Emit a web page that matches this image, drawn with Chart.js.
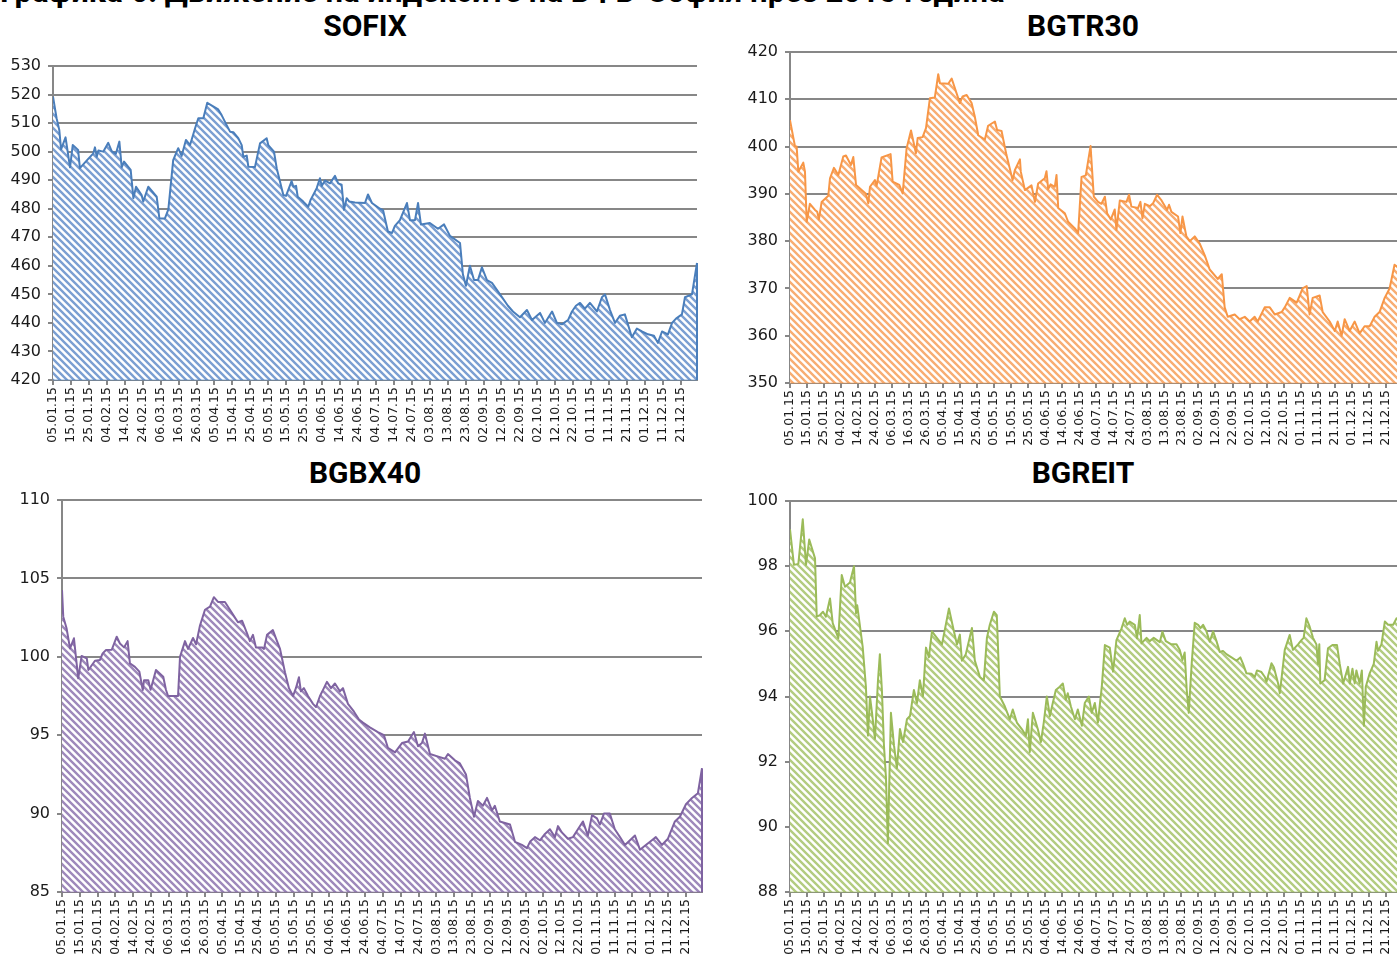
<!DOCTYPE html>
<html><head><meta charset="utf-8">
<script src="https://cdn.jsdelivr.net/npm/chart.js@4"></script>
<style>
html,body{margin:0;padding:0;width:1397px;height:958px;overflow:hidden;background:#fff;}
canvas{position:absolute;}
.ttl{position:absolute;font-family:Roboto,"Liberation Sans",sans-serif;font-weight:bold;color:#000;white-space:nowrap;line-height:1;}
.pt{width:400px;text-align:center;font-size:30px;}
</style></head><body>
<div class="ttl" style="left:0;top:-24px;font-size:31px;">Графика 6: Движение на индексите на БФБ-София през 2015 година</div>
<div class="ttl pt" style="left:165px;top:11px;">SOFIX</div>
<div class="ttl pt" style="left:883px;top:11px;">BGTR30</div>
<div class="ttl pt" style="left:165px;top:458px;">BGBX40</div>
<div class="ttl pt" style="left:883px;top:458px;">BGREIT</div>
<canvas id="c1" width="710" height="420" style="left:0;top:40px"></canvas>
<canvas id="c2" width="700" height="430" style="left:720px;top:30px"></canvas>
<canvas id="c3" width="715" height="478" style="left:0;top:480px"></canvas>
<canvas id="c4" width="700" height="478" style="left:720px;top:480px"></canvas>
<script>
// x values: days since 05.01.2015
const tickLabels = ['05.01.15','15.01.15','25.01.15','04.02.15','14.02.15','24.02.15','06.03.15','16.03.15','26.03.15','05.04.15','15.04.15','25.04.15','05.05.15','15.05.15','25.05.15','04.06.15','14.06.15','24.06.15','04.07.15','14.07.15','24.07.15','03.08.15','13.08.15','23.08.15','02.09.15','12.09.15','22.09.15','02.10.15','12.10.15','22.10.15','01.11.15','11.11.15','21.11.15','01.12.15','11.12.15','21.12.15'];

const sofixDays = [0,2,3.5,4.5,7,9.5,11,14,15,19,22.5,23.4,24.4,25.3,28,30.8,32.7,35,37,38.3,39.6,43.3,44.8,46.3,49.4,50.3,53.1,57.8,59.3,62.4,64.3,67,69.8,71.7,74.1,76.4,79.2,81,83.8,86,92.1,94,96.8,98.7,100.5,103.3,105.2,106.1,108,108.9,112.6,115.4,119.1,120,123.2,124.7,128.4,129.9,133,134,135.5,136.4,139.5,142.3,143.6,147,148.8,149.8,151.6,154.4,157.2,159,160.9,162.2,163.7,165.2,168.3,173.9,175.6,177.8,182.3,184,186.7,189,190.6,193.4,197.3,199,201.8,203.5,205.1,210.1,214.6,218,221.3,226.9,228.5,230.2,232.4,234.7,236.9,239.1,241.9,244.7,249.2,253.6,256.4,260.3,264.2,267,271.5,274.2,278.2,280.9,283.7,287.1,289.3,291.5,293.8,296.5,299.3,303.2,306,307.7,310.5,313.3,316,318.8,322.7,325.5,328.3,331.7,335,337.2,339.5,342.8,345.1,347.3,350.6,352.3,356.2,359];
const sofixValues = [519.3,511.7,507.6,500.8,505,494.5,502.3,500.6,494.2,497,499.4,501.5,498.2,500.4,500,503.1,500.2,499.2,503.5,494.5,496.5,493.6,483.7,487.7,484.8,482.5,487.7,484.2,476.6,476.6,479.8,497,501.2,498.5,504.1,502.3,508.2,511.7,511.7,517.1,514.8,512.8,509.3,507,506.8,504.7,502.3,498.2,498.6,494.7,494.6,502.9,504.7,502.3,500,494.2,484.8,484.5,489.7,487.7,488,484.2,482.5,480.7,483.1,487.2,490.7,488,489.9,488.9,491.5,488.9,488.4,479.6,483.7,482.5,482.2,482,485,482,480,479.5,472,471.5,474,476,482,476,476,482,474.5,475,473,474.5,470.5,468,457,453,460,455,455,459.5,455,454,450,446,444,442,444.5,441,443.5,440,444,440,439.5,441,444,446,447,445,447,444,449,450,444.5,440,442.5,443,435,438,437,436,435.5,433,437,436,440,441.5,443,449,450,461];

const bgtr30Days = [0,2.9,3.9,4.9,7.8,8.8,9.8,11.7,14.7,16,17,18.6,22.5,23.5,25.8,28.4,31.3,32.9,35.8,37.2,38.8,42.1,44.6,46,47,49.9,50.9,53.8,59.1,60.3,64.2,66.2,68.5,71.1,74,75,77.9,79.9,82.2,85.1,87.1,88.1,93,95,99.8,101.4,103.8,106.7,108.6,110.6,114.5,116.4,120.4,121.7,124.3,127.2,129.6,130.8,132.1,135.1,135.6,138,141.9,143.9,145.8,149.7,150.7,151.7,153.1,155.6,156.6,157.6,161.5,163.4,167.4,169.3,171.3,173.8,176.6,178.5,181,183,185,186.3,188.5,190.8,191.8,193.8,197.7,199.2,200.6,204.5,205.9,207.1,208.5,211.4,213.3,215.7,218.3,221.6,222.7,224.1,228,229.4,230.6,232.9,234.9,237.8,240.7,243.7,246.6,251.3,253.7,255.4,257.2,261.3,264.2,267.2,270.1,273,274.8,278.9,281.9,284.8,288.9,290.7,293.6,297.7,299.5,301.2,303.6,305.3,307.1,311.2,313,317.1,320.1,321.8,324.1,325.9,328.8,331.8,334.7,337.6,340.6,343.5,346.4,349.4,352.3,355.2,357,359];
const bgtr30Values = [405.6,400.1,400,394.7,396.6,394.7,384.1,387.9,386.6,386.2,384.6,388.3,389.6,393.3,395.5,394,397.9,398.1,396.1,397.8,391.9,390.8,390,388,391.5,392.9,391.7,397.7,398.4,392.6,391.9,390.1,399.6,403.4,398.6,401.8,402,403.9,410.2,410.4,415.3,413.4,413.3,414.4,409.2,410.6,410.9,409.2,406.3,402.4,401.5,404.4,405.3,403.5,403.3,398.2,394.7,392.9,395,397.3,394.7,390.8,391.8,388.3,392.2,393.3,394.8,391,392,391.5,394,387,385.9,384.1,382.7,381.7,393.6,393.9,400.1,389.4,388.3,387.9,389.4,385.9,384.6,386.7,382.4,388.6,388.3,389.8,387.3,387,388.3,384.8,387.9,387.4,388,389.8,388.6,386.6,387.7,386.2,385.2,381.7,385.2,381,380,381,379.5,377,374,372,373,366,364,364.5,363.5,364,363,364,363,366,366,364.5,365,366,368,367,368.5,370,370.5,364.5,368,368.5,365,363,361,363,360,363.5,361,363,360.5,362,362,364,365,368,370,375,374.5,376];

const bgbx40Days = [0,0.7,2.6,4.5,6.7,8.2,9.1,11,13.9,14.8,18.5,21.3,22.8,24.7,27.9,30.7,32.5,34.8,36.8,38.1,40.9,43.4,45.3,46,48.4,49.7,52.7,56.8,58.3,59.5,65.1,66.2,69,70.7,73.5,75.2,77.4,80.2,83,85.2,87.5,91.4,94.2,97,98.7,101,103.8,105.4,107.1,108.8,112.2,113.3,115,118.3,120.6,122.3,125.1,127.3,129.6,131.2,132.9,134,135.7,138,140.8,142.5,144.7,146.9,148.6,150.9,153.1,155.9,157.6,160.4,163.8,166.6,168.8,172.7,177.2,180.6,182.8,186.8,190.7,194.1,197.4,199.7,201.9,203.6,206.4,212,214.8,216.5,220.4,223.2,226.6,228.8,231.1,233.3,236.1,238.4,241.2,242.8,245.6,251.3,254.1,258,260.8,262.5,265.3,268.1,270.9,273.7,276.5,278.2,280.4,283.8,286.6,289.4,292.2,295,297.3,300.1,301.7,304,307.3,310.1,313,315.8,318.6,321.4,324.2,327.5,330.9,333.1,336.5,339.9,343.8,346.6,350,353.4,356.7,359];
const bgbx40Values = [104.26,102.56,101.8,100.54,101.18,99.58,98.63,100.05,99.9,99.16,99.75,99.8,100.22,100.43,100.45,101.28,100.85,100.6,101,99.58,99.36,99.05,97.88,98.5,98.5,97.9,99.16,98.73,97.9,97.5,97.5,100,101,100.5,101.2,100.8,102,103,103.2,103.8,103.5,103.5,103,102.5,102.2,102.3,101.5,101,101.4,100.6,100.6,100.5,101.4,101.7,101,100.5,99,98,97.5,98,98.7,97.8,98,97.5,97,96.8,97.5,98,98.4,98,98.3,97.8,98,97,96.5,96,95.8,95.5,95.2,95,94.2,93.9,94.5,94.6,95.2,94.3,94.5,95.1,93.8,93.6,93.5,93.8,93.4,93.2,92.5,91,89.8,90.8,90.5,91,90.2,90.5,89.5,89.3,88.2,88,87.8,88.2,88.5,88.3,88.7,89,88.5,89.2,88.8,88.4,88.5,89,89.5,88.6,89.9,89.7,89.3,90,90,89,88.5,88,88.3,88.6,87.7,88,88.3,88.5,88,88.4,89.5,89.8,90.6,91,91.3,92.9];

const bgreitDays = [0,2.3,4.9,7.5,9.4,11.3,14.7,15.7,17.6,19.4,21.1,23.5,25.1,28.4,30.4,32.3,35.2,37.6,38.8,39.5,42.7,44.6,45.8,47,48.2,49.9,51.7,52.8,54,55.2,56.4,57.5,59.3,61.1,62.8,64.6,66.4,68.7,70.5,72.8,74.6,76.3,78.1,79.9,81.6,83.4,86.3,89.3,93.4,96.3,98.1,99.8,101,103.3,106.9,108.6,111.6,113.9,115.7,117.4,119.8,121.5,123.3,126.2,129.2,130.9,133.3,136.2,138.6,139.8,140.9,142.7,145.6,147.4,149.1,150.9,152.7,154.4,156.2,158.5,160.3,162.1,163.2,165,167.4,169.1,171.5,173.2,175.6,177.3,179.1,180.9,183.2,185,187.9,189.8,191.8,194.8,196.7,198.1,199.6,202.6,203.9,205.5,206.5,209.5,211.4,213.7,217.3,218.8,220.8,224.1,227.1,229,230.6,231.9,233.1,234.3,236,237.8,239.8,241.2,242.7,244.7,246.6,248.6,250.6,252.5,254.4,256.4,259.4,262.3,264.6,266.2,268.2,271.1,273.1,274.4,277,279,280,282.9,284.3,286.8,287.8,290.7,293.6,295.5,298.5,300.5,301.8,303.4,305.3,307.3,309.3,310.2,311,311.6,314.1,316.1,318.7,321.4,323,325,327.9,328.9,330.5,331.8,332.8,334.7,336,337.2,338.3,340.6,343,344.6,345.5,347.5,349.5,351.4,354.4,356.4,359];
const bgreitValues = [99.13,98.04,98.07,99.44,98.04,98.82,98.24,96.45,96.5,96.6,96.45,97.01,96.25,95.79,97.73,97.37,97.5,98,96.55,96.8,95.53,94.3,92.8,94,93.5,92.7,94.5,95.3,94.2,92.5,91.5,89.5,93.5,92.5,91.8,93,92.6,93.3,93.4,94.2,93.8,94.5,94,95.5,95.2,96,95.8,95.6,96.7,96,95.6,95.9,95.1,95.3,96.1,95.1,94.6,94.5,95.8,96.2,96.6,96.5,94,93.7,93.3,93.6,93.2,93,92.8,93.3,92.3,93.5,93,92.6,93.2,94,93.4,93.8,94.2,94.3,94.4,93.9,94.1,93.7,93.3,93.6,93.1,93.8,94,93.5,93.8,93.2,94.3,95.58,95.5,94.76,95.73,96.09,96.4,96.2,96.3,96.2,95.79,96.5,95.63,95.8,95.7,95.8,95.67,95.99,95.7,95.6,95.6,95.43,95.12,95.35,94.2,93.5,95,96.26,96.2,96.1,96.2,96,95.68,96,95.7,95.37,95.4,95.3,95.2,95.1,95.2,95,94.71,94.7,94.6,94.8,94.75,94.6,94.45,95.02,94.9,94.4,94.1,95.43,95.89,95.43,95.6,95.73,95.8,96.4,96.15,95.8,95.6,95,95.6,94.4,94.5,95.48,95.58,95.58,95,94.4,94.91,94.4,94.85,94.4,94.8,94.4,94.8,93.1,94.3,94.71,95,95.68,95.4,95.6,96.3,96.2,96.2,96.4,96.3];

function dayOf(label){
  const p = label.split('.').map(Number);
  return (Date.UTC(2000 + p[2], p[1] - 1, p[0]) - Date.UTC(2015, 0, 5)) / 864e5;
}
const tickDays = tickLabels.map(dayOf);

function hatch(color){
  const s = 7;
  const c = document.createElement('canvas'); c.width = s; c.height = s;
  const g = c.getContext('2d');
  g.fillStyle = '#fff'; g.fillRect(0, 0, s, s);
  g.strokeStyle = color; g.lineWidth = 2.4; g.beginPath();
  g.moveTo(-2, -2); g.lineTo(s + 2, s + 2);
  g.moveTo(-2, s - 2); g.lineTo(2, s + 2);
  g.moveTo(s - 2, -2); g.lineTo(s + 2, 2);
  g.stroke();
  return g.createPattern(c, 'repeat');
}

const edgePlugin = {
  id: 'edge',
  afterDatasetsDraw(chart){
    const pts = chart.getDatasetMeta(0).data;
    if (!pts.length) return;
    const ctx = chart.ctx, a = chart.chartArea, ds = chart.data.datasets[0];
    const first = pts[0], last = pts[pts.length - 1];
    ctx.save();
    ctx.strokeStyle = ds.borderColor; ctx.lineWidth = 2;
    ctx.beginPath(); ctx.moveTo(last.x, last.y); ctx.lineTo(last.x, a.bottom); ctx.stroke();
    ctx.lineWidth = 1.2; ctx.globalAlpha = 0.6;
    ctx.beginPath(); ctx.moveTo(first.x, a.bottom); ctx.lineTo(last.x, a.bottom); ctx.stroke();
    ctx.restore();
  }
};

const GRID = '#878787';
function panel(id, days, values, color, fill, yMin, yMax, yStep, box){
  const n = Math.min(days.length, values.length);
  const pts = [];
  for (let i = 0; i < n; i++) pts.push({x: days[i], y: values[i]});
  new Chart(document.getElementById(id), {
    type: 'line',
    data: {datasets: [{data: pts, borderColor: color, borderWidth: 2, backgroundColor: hatch(fill),
      fill: 'start', pointRadius: 0, tension: 0, borderJoinStyle: 'round'}]},
    options: {
      responsive: false, animation: false, devicePixelRatio: 1,
      layout: {padding: {top: box.pt, right: box.pr, left: 0, bottom: 0}},
      plugins: {legend: {display: false}, tooltip: {enabled: false}, title: {display: false}},
      scales: {
        x: {
          type: 'linear', min: 0, max: 359,
          afterBuildTicks: s => { s.ticks = tickDays.map(v => ({value: v})); },
          afterFit: s => { s.height = box.xh; },
          ticks: {autoSkip: false, minRotation: 90, maxRotation: 90, padding: 2, color: '#1a1a1a',
            font: {family: '"DejaVu Sans"', size: 12.5}, callback: (v, i) => tickLabels[i]},
          grid: {drawOnChartArea: false, drawTicks: true, tickLength: 5, color: GRID, lineWidth: 2},
          border: {display: true, color: GRID, width: 2}
        },
        y: {
          min: yMin, max: yMax,
          afterFit: s => { s.width = box.yw; },
          ticks: {stepSize: yStep, padding: 7, color: '#1a1a1a', font: {family: '"DejaVu Sans"', size: 16}},
          grid: {color: GRID, lineWidth: 2, tickLength: 5},
          border: {display: true, color: GRID, width: 2}
        }
      }
    },
    plugins: [edgePlugin]
  });
}

panel('c1', sofixDays, sofixValues, '#4a7ebb', '#7b9fd2', 420, 530, 10, {yw: 53, xh: 80, pt: 26, pr: 13});
panel('c2', bgtr30Days, bgtr30Values, '#f79646', '#f8ad72', 350, 420, 10, {yw: 70, xh: 77, pt: 22, pr: 19});
panel('c3', bgbx40Days, bgbx40Values, '#7f63a1', '#9e89bb', 85, 110, 5, {yw: 62, xh: 66, pt: 20, pr: 13});
panel('c4', bgreitDays, bgreitValues, '#9bbb59', '#b3cc80', 88, 100, 2, {yw: 70, xh: 66, pt: 21, pr: 19});
</script>
</body></html>
